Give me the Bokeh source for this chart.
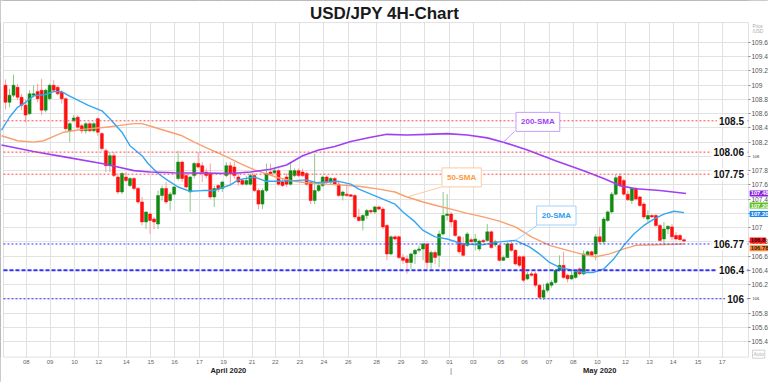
from bokeh.plotting import figure
from bokeh.models import (Range1d, FixedTicker, Label, ColumnDataSource, CustomJSTickFormatter,
                          BoxAnnotation)
from bokeh.embed import file_html
from bokeh.resources import INLINE

# ---------------- data (USD/JPY 4H candles) ----------------
open_ = [109.00,108.76,108.86,108.97,108.83,108.72,108.60,108.86,108.91,108.93,
         108.65,108.81,109.00,108.97,108.90,108.81,108.36,108.50,108.55,108.43,
         108.36,108.46,108.36,108.53,108.32,108.08,107.87,108.01,107.71,107.50,
         107.71,107.59,107.69,107.55,107.36,107.08,107.19,107.12,107.05,107.45,
         107.55,107.38,107.47,107.69,107.92,107.73,107.50,107.73,107.90,107.87,
         107.78,107.76,107.43,107.59,107.55,107.73,107.87,107.85,107.71,107.66,
         107.61,107.61,107.73,107.52,107.33,107.52,107.78,107.77,107.80,107.64,
         107.71,107.61,107.73,107.80,107.78,107.76,107.64,107.38,107.52,107.59,
         107.71,107.64,107.69,107.61,107.45,107.47,107.46,107.45,107.15,107.10,
         107.17,107.24,107.22,107.29,107.26,107.03,106.63,106.87,106.87,106.58,
         106.56,106.51,106.63,106.68,106.70,106.77,106.51,106.65,106.61,106.91,
         107.17,107.19,107.10,106.87,106.77,106.75,106.83,106.80,106.70,106.82,
         106.82,106.94,106.76,106.75,106.54,106.58,106.77,106.68,106.59,106.59,
         106.28,106.35,106.35,106.19,106.02,106.12,106.19,106.23,106.40,106.47,
         106.33,106.28,106.30,106.42,106.35,106.62,106.66,106.63,106.87,106.80,
         107.10,107.22,107.47,107.72,107.66,107.47,107.38,107.55,107.43,107.33,
         107.12,107.17,107.17,107.03,106.84,106.98,107.01,106.89,106.89,106.83]
high = [109.08,108.95,109.15,109.02,108.88,108.79,108.93,109.00,109.02,109.09,
        108.95,109.02,109.07,109.00,108.93,108.83,108.48,108.58,108.58,108.46,
        108.48,108.48,108.48,108.55,108.34,108.11,108.06,108.06,107.76,107.78,
        107.78,107.71,107.71,107.57,107.43,107.22,107.22,107.15,107.52,107.59,
        107.64,107.50,107.59,108.08,107.94,107.78,107.73,107.92,108.06,107.92,
        107.83,107.90,107.59,107.61,107.66,107.92,107.92,107.92,107.76,107.69,
        107.73,107.76,107.76,107.55,107.55,107.90,107.90,107.83,107.83,107.69,
        107.76,107.92,107.83,107.83,107.83,107.78,107.64,108.04,107.61,107.73,
        107.73,107.71,107.71,107.64,107.52,107.61,107.47,107.47,107.26,107.19,
        107.26,107.26,107.31,107.31,107.29,107.05,106.89,106.89,106.89,106.63,
        106.61,106.65,106.70,106.75,106.79,106.79,106.68,106.68,106.96,107.50,
        107.47,107.22,107.12,106.89,106.87,106.94,106.86,106.91,106.83,106.84,
        107.05,106.96,106.83,106.77,106.61,106.80,106.82,106.70,106.61,106.61,
        106.38,106.38,106.38,106.21,106.21,106.23,106.26,106.42,106.61,106.66,
        106.35,106.40,106.40,106.44,106.68,106.68,106.68,106.91,107.01,107.15,
        107.24,107.50,107.75,107.76,107.69,107.52,107.57,107.57,107.45,107.36,
        107.24,107.19,107.19,107.05,107.08,107.03,107.05,106.94,106.91,106.85]
low = [108.66,108.69,108.83,108.79,108.65,108.48,108.58,108.83,108.76,108.58,
       108.62,108.79,108.90,108.86,108.74,108.36,108.20,108.48,108.39,108.32,
       108.32,108.34,108.34,108.29,108.08,107.78,107.78,107.71,107.47,107.47,
       107.64,107.57,107.52,107.33,107.03,106.98,106.91,106.98,106.98,107.38,
       107.33,107.24,107.45,107.66,107.64,107.55,107.22,107.69,107.83,107.64,
       107.69,107.40,107.29,107.50,107.50,107.71,107.59,107.69,107.59,107.59,
       107.59,107.59,107.50,107.26,107.26,107.50,107.73,107.75,107.59,107.57,
       107.57,107.59,107.71,107.71,107.71,107.59,107.33,107.33,107.50,107.57,
       107.61,107.61,107.59,107.43,107.38,107.43,107.43,107.12,107.08,106.96,
       107.12,107.19,107.19,107.24,106.98,106.54,106.61,106.82,106.56,106.49,
       106.35,106.42,106.49,106.65,106.54,106.42,106.42,106.49,106.44,106.89,
       107.10,107.01,106.87,106.63,106.59,106.73,106.79,106.68,106.67,106.78,
       106.80,106.70,106.73,106.52,106.53,106.58,106.66,106.47,106.44,106.23,
       106.26,106.31,106.16,106.00,105.98,106.09,106.16,106.21,106.38,106.28,
       106.23,106.26,106.28,106.33,106.33,106.61,106.59,106.54,106.77,106.77,
       107.08,107.19,107.45,107.57,107.45,107.38,107.33,107.38,107.29,107.12,
       107.08,107.14,107.01,106.80,106.75,106.91,106.82,106.82,106.82,106.80]
close_ = [108.76,108.86,109.00,108.83,108.72,108.58,108.88,108.88,108.81,108.65,
          108.93,109.00,108.93,108.88,108.81,108.39,108.46,108.54,108.41,108.36,
          108.46,108.36,108.46,108.34,108.11,107.87,108.01,107.73,107.50,107.76,
          107.66,107.69,107.55,107.36,107.08,107.22,107.10,107.08,107.45,107.55,
          107.36,107.47,107.57,107.92,107.69,107.57,107.71,107.90,107.85,107.78,
          107.73,107.43,107.55,107.54,107.64,107.87,107.76,107.73,107.64,107.61,
          107.66,107.73,107.52,107.33,107.52,107.76,107.76,107.80,107.61,107.59,
          107.61,107.80,107.80,107.73,107.73,107.61,107.38,107.52,107.59,107.71,
          107.64,107.69,107.61,107.45,107.50,107.45,107.44,107.15,107.10,107.17,
          107.24,107.22,107.29,107.26,107.01,106.63,106.87,106.84,106.58,106.54,
          106.51,106.63,106.68,106.70,106.77,106.51,106.65,106.58,106.91,107.17,
          107.19,107.08,106.89,106.66,106.61,106.91,106.80,106.84,106.81,106.80,
          106.94,106.72,106.80,106.54,106.58,106.77,106.68,106.49,106.47,106.26,
          106.34,106.33,106.19,106.02,106.12,106.21,106.23,106.40,106.47,106.30,
          106.28,106.33,106.38,106.35,106.63,106.66,106.61,106.87,106.80,107.12,
          107.22,107.47,107.70,107.59,107.47,107.39,107.55,107.40,107.31,107.15,
          107.17,107.15,107.03,106.82,106.98,107.02,106.87,106.84,106.83,106.81]

sma20_idx = [-1, 1, 3, 5, 7, 10, 12, 14, 15.5, 18, 20.5, 24, 26, 29, 31, 34, 35.5, 38, 40.5, 43,
             46, 49, 52, 54.5, 56, 58, 62, 65, 68, 72, 75, 77.5, 80, 83, 86, 88, 91, 94, 97, 99,
             102, 104, 107, 110, 114, 119, 123, 127, 130.5, 133, 135.5, 138, 140.5, 144, 146.5,
             149, 151.5, 154, 156.5, 159, 161.5, 164, 166.5, 169]
sma20_val = [108.37, 108.55, 108.69, 108.76, 108.85, 108.87, 108.91, 108.91, 108.86, 108.79,
             108.72, 108.64, 108.53, 108.34, 108.15, 108.01, 107.90, 107.76, 107.66, 107.57,
             107.51, 107.52, 107.52, 107.57, 107.60, 107.67, 107.71, 107.65, 107.65, 107.66,
             107.67, 107.63, 107.64, 107.65, 107.61, 107.54, 107.47, 107.40, 107.33, 107.22,
             107.08, 106.96, 106.87, 106.84, 106.77, 106.76, 106.80, 106.82, 106.73, 106.63,
             106.51, 106.44, 106.41, 106.37, 106.37, 106.42, 106.56, 106.75, 106.91, 107.03,
             107.12, 107.19, 107.23, 107.21]
sma50_idx = [-1, 3, 7, 9.5, 12, 14.5, 18, 21, 25, 29, 32, 34, 37, 40.5, 44, 47, 50.5, 54, 56, 58.5,
             62, 65, 68, 72, 75, 80, 83, 88, 93, 97, 100, 104, 108, 111, 115, 119, 123, 127, 131,
             135.5, 140, 144, 147, 150.5, 154, 157, 162, 169]
sma50_val = [108.29, 108.22, 108.20, 108.22, 108.28, 108.34, 108.37, 108.39, 108.41, 108.44,
             108.46, 108.46, 108.41, 108.35, 108.29, 108.20, 108.11, 108.02, 107.97, 107.90,
             107.81, 107.755, 107.70, 107.65, 107.63, 107.61, 107.60, 107.58, 107.54, 107.50,
             107.43, 107.36, 107.30, 107.26, 107.20, 107.15, 107.09, 107.01, 106.87, 106.75,
             106.68, 106.62, 106.59, 106.63, 106.70, 106.75, 106.76, 106.77]
sma200_idx = [-1, 7, 15, 24, 28, 32, 36, 42, 50, 56, 61, 66, 70, 74, 78, 82, 86, 91, 95, 100,
              105, 110, 115, 120, 124, 130, 137, 144, 149, 153, 157, 163, 169.5]
sma200_val = [108.16, 108.07, 107.99, 107.90, 107.85, 107.80, 107.78, 107.77, 107.765, 107.76,
              107.78, 107.82, 107.88, 108.01, 108.09, 108.14, 108.21, 108.27, 108.31, 108.30,
              108.31, 108.32, 108.30, 108.26, 108.20, 108.09, 107.94, 107.80, 107.69, 107.59,
              107.545, 107.52, 107.48]

red_levels = [108.5, 108.06, 107.75]
red_texts = ["108.5", "108.06", "107.75"]
blue_levels = [106.77, 106.4, 106.0]
blue_texts = ["106.77", "106.4", "106"]

tick_pos = [5.2, 11.1, 17.2, 23.2, 30.1, 36.2, 42.1, 48.3, 54.3, 61.4, 67.2, 73.3, 79.3, 85.4,
            92.4, 98.5, 104.3, 110.6, 116.5, 123.4, 129.3, 135.4, 141.4, 147.4, 154.4, 160.4,
            166.3, 172.5, 178.5]
tick_lbl = ["08", "09", "10", "12", "14", "15", "16", "17", "19", "21", "22", "23", "24", "26",
            "28", "29", "30", "01", "03", "05", "06", "07", "08", "10", "12", "13", "14", "15", "17"]
price_ticks = [105.4, 105.6, 105.8, 106.0, 106.2, 106.4, 106.6, 106.8, 107.0, 107.2, 107.4,
               107.6, 107.8, 108.0, 108.2, 108.4, 108.6, 108.8, 109.0, 109.2, 109.4, 109.6]
month_text = ["April 2020", "May 2020"]
month_pos = [55.5, 148.0]
month_break = 111.0

tag_values = [107.48, 107.31, 107.19, 106.82, 106.71]
tag_texts = ["107.48", "107.20", "107.20", "106.8", "106.78"]

# ---------------- geometry ----------------
X0, X1 = -1.245, 190.04       # whole canvas (frame) in bar units
Y0, Y1 = 104.824, 110.19      # whole canvas (frame) in price units
XL, XA = -0.5, 185.05         # chart area left edge / price axis position
YB, YT = 105.18, 109.88       # chart area bottom / top
PX = 1 / 4.015                # one pixel, horizontally
PY = 1 / 71.2                 # one pixel, vertically

FONT = "Liberation Sans"

p = figure(width=768, height=382, output_backend="svg", toolbar_location=None, title=None,
           x_range=Range1d(X0, X1), y_range=Range1d(Y0, Y1), y_axis_location="right",
           min_border_left=0, min_border_right=0, min_border_top=0, min_border_bottom=0)
p.background_fill_color = "white"
p.border_fill_color = "white"
p.outline_line_color = "#a3a3a3"

# axes placed at the chart-area edges
p.xaxis.fixed_location = YB
p.xaxis.ticker = FixedTicker(ticks=tick_pos)
p.xaxis.formatter = CustomJSTickFormatter(args=dict(pos=tick_pos, lbl=tick_lbl), code="""
    const i = pos.findIndex(v => Math.abs(v - tick) < 1e-6);
    return i >= 0 ? lbl[i] : '';
""")
p.xaxis.major_label_text_font_size = "6px"
p.xaxis.major_label_text_color = "#666666"
p.xaxis.major_label_text_font = FONT
p.xaxis.major_tick_out = 0
p.xaxis.major_tick_in = 0
p.xaxis.minor_tick_out = 0
p.xaxis.major_label_standoff = 3
p.xaxis.axis_line_color = None

p.yaxis.fixed_location = XA
p.yaxis.ticker = FixedTicker(ticks=price_ticks)
p.yaxis.formatter = CustomJSTickFormatter(code="""
    if (Math.abs(tick - 108) < 1e-6 || Math.abs(tick - 106) < 1e-6) return '';
    return (Math.round(tick * 10) / 10).toString();
""")
p.yaxis.major_label_text_font_size = "6.6px"
p.yaxis.major_label_text_color = "#555555"
p.yaxis.major_label_text_font = FONT
p.yaxis.major_tick_out = 2
p.yaxis.major_tick_in = 0
p.yaxis.minor_tick_out = 0
p.yaxis.major_label_standoff = 1
p.yaxis.axis_line_color = None
p.yaxis.major_tick_line_color = "#888888"

p.xgrid.grid_line_color = "#e2e2e2"
p.ygrid.grid_line_color = "#e2e2e2"

# hide grid outside the chart area, then draw the chart-area border
for l, r, b, t in ((XA, X1, Y0, Y1), (X0, XL, Y0, Y1), (X0, X1, YT, Y1), (X0, X1, Y0, YB)):
    p.add_layout(BoxAnnotation(left=l, right=r, bottom=b, top=t, fill_color="white",
                               fill_alpha=1, line_alpha=0, level="underlay"))
p.add_layout(BoxAnnotation(left=XL, right=XA, bottom=YB, top=YT, fill_alpha=0,
                           line_color="#9a9a9a", line_width=1, level="underlay"))

# ---------------- candles ----------------
up = [c >= o for o, c in zip(open_, close_)]
src = ColumnDataSource(dict(
    x=list(range(len(close_))), high=high, low=low,
    top=[max(o, c) for o, c in zip(open_, close_)],
    bottom=[min(o, c) for o, c in zip(open_, close_)],
    body=["#128a12" if u else "#ff0f0f" for u in up],
    wick=["#8cc98c" if u else "#ff9c9c" for u in up],
))
p.segment(x0="x", y0="high", x1="x", y1="low", line_color="wick", line_width=1, source=src)
p.vbar(x="x", top="top", bottom="bottom", width=0.75, fill_color="body",
       line_color="body", line_width=0.5, source=src)

# ---------------- moving averages ----------------
p.line(sma50_idx, sma50_val, line_color="#f9a06e", line_width=1.4)
p.line(sma20_idx, sma20_val, line_color="#35a6f2", line_width=1.4)
p.line(sma200_idx, sma200_val, line_color="#a03ff5", line_width=1.6)

# ---------------- support / resistance ----------------
n_r = len(red_levels)
p.segment(x0=[XL] * n_r, x1=[XA] * n_r, y0=red_levels, y1=red_levels,
          line_color="#ff4545", line_dash="2 2", line_width=1)
for v in blue_levels:
    thick = abs(v - 106.4) < 1e-9
    p.segment(x0=[XL], x1=[XA], y0=[v], y1=[v], line_color="#3434ff",
              line_dash="4 2" if thick else "2 2", line_width=2 if thick else 1)
for v, t in list(zip(red_levels, red_texts)) + list(zip(blue_levels, blue_texts)):
    p.add_layout(Label(x=XA - 2.5 * PX, y=v, text=t, text_align="right", text_baseline="middle",
                       text_font=FONT, text_font_size="10px", text_font_style="bold",
                       text_color="#111111", background_fill_color="white", padding=2))

# ---------------- callouts ----------------
callouts = [
    ("200-SMA", 132.6, 108.485, "#a03ff5", "#c99cff", sma200_idx, sma200_val, 124, 126.8, 108.35),
    ("50-SMA", 113.6, 107.705, "#ff9a3c", "#ffc9a0", sma50_idx, sma50_val, 102, 108.6, 107.57),
    ("20-SMA", 137.2, 107.17, "#2f9bf0", "#9fd3ff", sma20_idx, sma20_val, 126.5, 132.4, 107.03),
]
for text, cx, cy, tc, bc, sx, sv, tip, bx, by in callouts:
    j = min(range(len(sx)), key=lambda k: abs(sx[k] - tip))
    p.segment(x0=[bx], y0=[by], x1=[sx[j]], y1=[sv[j]], line_color=bc, line_width=1)
    p.add_layout(Label(x=cx, y=cy, text=text, text_align="center", text_baseline="middle",
                       text_font=FONT, text_font_size="8px", text_font_style="bold",
                       text_color=tc, background_fill_color="white", border_line_color=bc,
                       border_line_width=1, padding=5))

# ---------------- right-axis price tags ----------------
tag_bg = ["#8a1ee6", "#5cc21e", "#1a86f0", "#ff1a1a", "#ff8a3d"]
tag_fg = ["white", "white", "white", "#330000", "#3a1a00"]
for v, t, bg, fg in zip(tag_values, tag_texts, tag_bg, tag_fg):
    p.add_layout(Label(x=XA + 1.2 * PX, y=v, text=t, text_align="left", text_baseline="middle",
                       text_font=FONT, text_font_size="5.8px", text_font_style="bold",
                       text_color=fg, background_fill_color=bg, padding=1))
for v in (108.0, 106.0):
    p.add_layout(Label(x=XA + 4 * PX, y=v, text=str(int(v)), text_align="left",
                       text_baseline="middle", text_font=FONT, text_font_size="4px",
                       text_color="#333333"))
p.add_layout(Label(x=XA + 4 * PX, y=YT - 3.5 * PY, text="Price", text_align="left",
                   text_baseline="middle", text_font=FONT, text_font_size="4.5px",
                   text_color="#aaaaaa"))
p.add_layout(Label(x=XA + 4 * PX, y=YT - 9 * PY, text="/USD", text_align="left",
                   text_baseline="middle", text_font=FONT, text_font_size="4.5px",
                   text_color="#aaaaaa"))
p.add_layout(Label(x=XA + 4 * PX, y=YB + 3 * PY, text="Auto", text_align="left",
                   text_baseline="middle", text_font=FONT, text_font_size="5px",
                   text_color="#b0b0b0", border_line_color="#d0d0d0", padding=1))

# ---------------- title and month labels ----------------
p.add_layout(Label(x=94.4, y=YT + 9.5 * PY, text="USD/JPY 4H-Chart", text_align="center",
                   text_baseline="middle", text_font=FONT, text_font_size="17px",
                   text_font_style="bold", text_color="#1a1a1a"))
for t, xm in zip(month_text, month_pos):
    p.add_layout(Label(x=xm, y=YB - 13.5 * PY, text=t, text_align="center",
                       text_baseline="middle", text_font=FONT, text_font_size="7.5px",
                       text_font_style="bold", text_color="#222222"))
p.add_layout(Label(x=month_break, y=YB - 13 * PY, text="|", text_align="center",
                   text_baseline="middle", text_font=FONT, text_font_size="8px",
                   text_color="#777777"))

open("out.html", "w").write(file_html(p, INLINE))
